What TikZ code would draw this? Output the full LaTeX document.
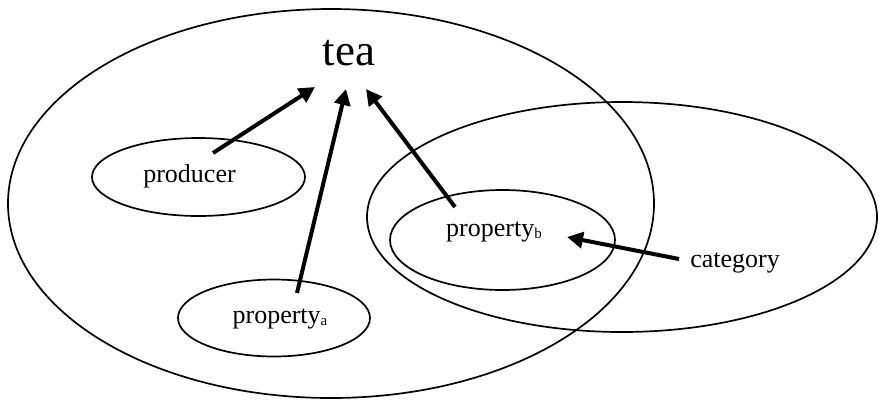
\documentclass[tikz,border=0pt]{standalone}
\usepackage{fontspec}
\setmainfont{Liberation Serif}
\usetikzlibrary{shapes.geometric,arrows.meta}
\tikzset{
  ring/.style={draw, ellipse, line width=1.7pt, inner sep=0pt},
  lbl/.style={font=\fontsize{26}{30}\selectfont, inner sep=0pt, anchor=base},
  arr/.style={line width=4pt, -{Triangle[length=16pt,width=16pt]}}
}
\newcommand{\subx}[1]{\raisebox{-2pt}{\fontsize{15}{15}\selectfont #1}}
\begin{document}
\begin{tikzpicture}[x=1pt,y=-1pt]
\useasboundingbox (0,0) rectangle (879,400);
% ellipses
\node[ring, minimum width=646pt, minimum height=389pt] (big) at (331,203.5) {};
\node[ring, minimum width=510pt, minimum height=230pt] (cat) at (622,217) {};
\node[ring, minimum width=213pt, minimum height=78pt] (prod) at (198.5,177) {};
\node[ring, minimum width=192pt, minimum height=77pt] (pa) at (274,318) {};
\node[ring, minimum width=225pt, minimum height=100pt] (pb) at (502.5,240) {};
% texts
\node[lbl, font=\fontsize{45}{50}\selectfont] (tea) at (349,65) {tea};
\node[lbl] (tprod) at (189.5,182) {producer};
\node[lbl] (tpa) at (280,323) {property\subx{a}};
\node[lbl] (tpb) at (494,236) {property\subx{b}};
\node[lbl] (tcat) at (735,267) {category};
% arrow ends
\coordinate (s1) at (213,153);
\coordinate (e1) at (315,87);
\coordinate (s2) at (297,293);
\coordinate (e2) at (346,89);
\coordinate (s3) at (455,207);
\coordinate (e3) at (366,89);
\coordinate (s4) at (679,259);
\coordinate (e4) at (567,237);
\draw[arr] (s1) -- (e1);
\draw[arr] (s2) -- (e2);
\draw[arr] (s3) -- (e3);
\draw[arr] (s4) -- (e4);
\end{tikzpicture}
\end{document}
